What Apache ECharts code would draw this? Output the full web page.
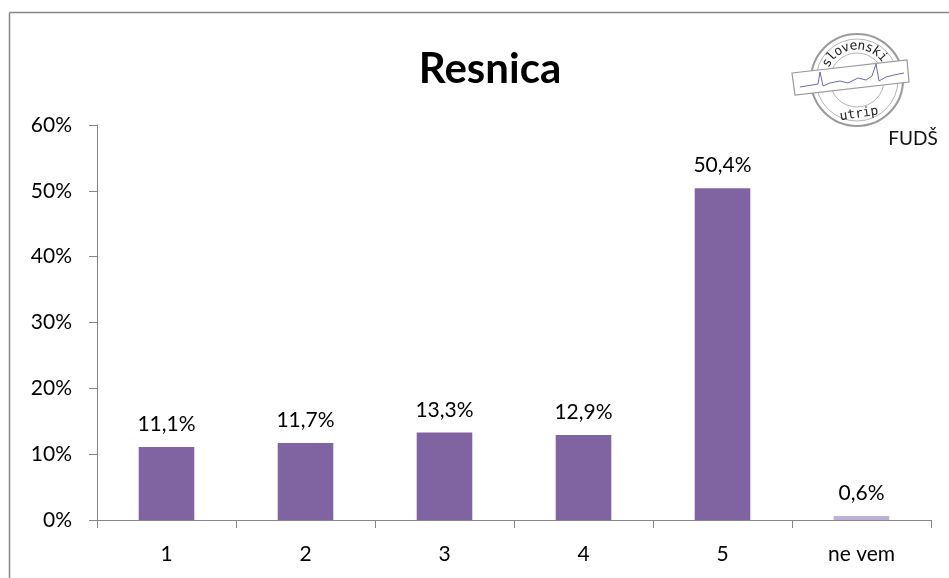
<!DOCTYPE html>
<html>
<head>
    <meta charset="utf-8">
    <title>Resnica</title>
    <script src="https://cdn.jsdelivr.net/npm/echarts@6/dist/echarts.min.js"></script>
    <style>
        html, body { margin: 0; padding: 0; background: #fff; }
        #main { width: 949px; height: 578px; }
    </style>
</head>
<body>
<div id="main"></div>
<script>
    // podatki
    var categories = ['1', '2', '3', '4', '5', 'ne vem'];
    var values = [11.1, 11.7, 13.3, 12.9, 50.4, 0.6];
    var barColors = ['#8064A2', '#8064A2', '#8064A2', '#8064A2', '#8064A2', '#BFB1D6'];
    var yTicks = [0, 10, 20, 30, 40, 50, 60];

    var font = 'Lato, "Open Sans", sans-serif';

    // logo - slovenski utrip
    function logo() {
        var cx = 857, cy = 80;
        var els = [
            {type: 'circle', shape: {cx: cx, cy: cy, r: 46}, style: {fill: 'none', stroke: '#9a9a9a', lineWidth: 2}},
            {type: 'circle', shape: {cx: cx, cy: cy, r: 41}, style: {fill: 'none', stroke: '#b5b5b5', lineWidth: 1}},
            {type: 'circle', shape: {cx: cx, cy: cy, r: 27}, style: {fill: 'none', stroke: '#b5b5b5', lineWidth: 1}}
        ];
        var word = 'slovenski';
        var a0 = -150, a1 = -42;
        for (var i = 0; i < word.length; i++) {
            var a = (a0 + (a1 - a0) * i / (word.length - 1)) * Math.PI / 180;
            els.push({
                type: 'text',
                x: cx + 34 * Math.cos(a), y: cy + 34 * Math.sin(a),
                rotation: -(a + Math.PI / 2),
                style: {text: word[i], fill: '#222', font: '13px "DejaVu Sans Mono", monospace', align: 'center', verticalAlign: 'middle'}
            });
        }
        els.push({
            type: 'polygon',
            shape: {points: [[792, 73], [907, 60], [909, 82], [795, 95]]},
            style: {fill: '#fff', stroke: '#999', lineWidth: 1.2}
        });
        els.push({
            type: 'polyline',
            shape: {points: [[800, 87], [812, 85], [818, 84], [820, 72], [823, 86], [830, 83], [840, 81], [848, 83], [858, 78], [866, 80], [872, 76], [876, 64], [879, 81], [886, 77], [894, 75], [904, 73]]},
            style: {fill: 'none', stroke: '#6a6aa8', lineWidth: 1}
        });
        els.push({
            type: 'text', x: 859, y: 114, rotation: 0.15,
            style: {text: 'utrip', fill: '#222', font: '13px "DejaVu Sans Mono", monospace', align: 'center', verticalAlign: 'middle'}
        });
        els.push({
            type: 'text', x: 913, y: 139,
            style: {text: 'FUDŠ', fill: '#111', font: '19px ' + font, align: 'center', verticalAlign: 'middle'}
        });
        return els;
    }

    var chart = echarts.init(document.getElementById('main'), null, {renderer: 'canvas'});
    var option = {
        animation: false,
        backgroundColor: '#fff',
        title: {
            text: 'Resnica',
            left: 485, top: 43,
            textAlign: 'center',
            textStyle: {fontFamily: font, fontWeight: 'bold', fontSize: 42, color: '#000'}
        },
        grid: {left: 97, right: 18, top: 125, bottom: 58},
        xAxis: {
            type: 'category',
            data: categories,
            axisLine: {lineStyle: {color: '#868686', width: 1}},
            axisTick: {show: true, length: 8, lineStyle: {color: '#868686'}},
            axisLabel: {color: '#000', fontSize: 21, fontFamily: font, margin: 24}
        },
        yAxis: {
            type: 'value',
            min: yTicks[0], max: yTicks[yTicks.length - 1], interval: 10,
            splitLine: {show: false},
            axisLine: {show: true, lineStyle: {color: '#868686', width: 1}},
            axisTick: {show: true, length: 8, lineStyle: {color: '#868686'}},
            axisLabel: {color: '#000', fontSize: 21, fontFamily: font, margin: 25, formatter: '{value}%'}
        },
        series: [{
            type: 'bar',
            barWidth: '40%',
            data: values.map(function (v, i) {
                return {value: v, itemStyle: {color: barColors[i]}};
            }),
            label: {
                show: true, position: 'top', distance: 12,
                color: '#000', fontSize: 21, fontFamily: font,
                formatter: function (p) { return p.value.toFixed(1).replace('.', ',') + '%'; }
            }
        }],
        graphic: [
            {type: 'line', shape: {x1: 9.5, y1: 12.5, x2: 949, y2: 12.5}, style: {stroke: '#868686', lineWidth: 1.5}},
            {type: 'line', shape: {x1: 9.5, y1: 12.5, x2: 9.5, y2: 578}, style: {stroke: '#868686', lineWidth: 1.5}}
        ].concat(logo())
    };
    chart.setOption(option);
</script>
</body>
</html>
